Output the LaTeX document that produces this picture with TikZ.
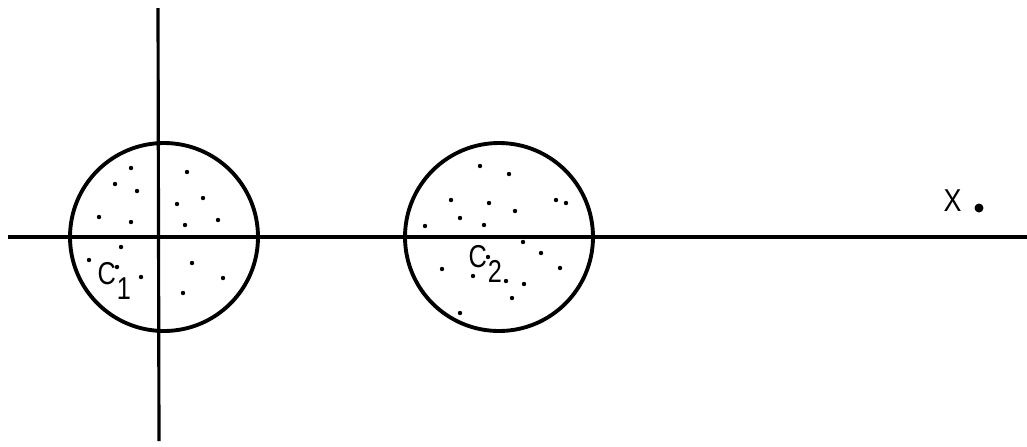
\documentclass[tikz,border=0pt]{standalone}
\usepackage{fontspec}
\setmainfont{Liberation Sans}
\usetikzlibrary{positioning}

\newcommand{\clab}[2]{\scalebox{0.8}[1]{#1\hspace{0.3pt}\raisebox{-4.3pt}{#2}}}

\begin{document}
\begin{tikzpicture}[
  x=0.1mm, y=-0.1mm,
  axis/.style={line width=0.9pt},
  cluster/.style={circle, draw, line width=1.1pt, minimum size=18.8mm, inner sep=0pt},
  lbl/.style={font=\fontsize{9}{10}\selectfont, inner sep=0pt, anchor=base west}
]
  \useasboundingbox (0,0) rectangle (1027,446);

  \coordinate (xl) at (8,237);
  \coordinate (xr) at (1027,237);
  \coordinate (yt) at (158,8);
  \coordinate (yb) at (159,441);
  \draw[axis] (xl) -- (xr);
  \draw[axis] (yt) -- (yb);

  \node[cluster] (C1) at (164,237) {};
  \node[cluster] (C2) at (499,237) {};

  % points of the two clusters
  \foreach \p in {(131,168),(115,184),(137,191),(99,217),(131,222),(187,172),
                  (203,198),(177,204),(185,225),(218,220),(121,247),(89,260),
                  (117,267),(141,277),(192,263),(223,278),(183,293)}
    \fill \p circle (0.22mm);
  \foreach \p in {(480,166),(509,174),(451,200),(489,203),(556,200),(566,203),
                  (515,211),(460,218),(484,225),(425,226),(523,242),(488,257),
                  (541,253),(442,269),(473,276),(506,281),(524,284),(560,268),
                  (512,298),(460,313)}
    \fill \p circle (0.22mm);

  \node[lbl] (l1) at (97,284) {\clab{C}{1}};
  \node[lbl] (l2) at (468,267) {\clab{C}{2}};

  \node[lbl] (xlab) at (943,211) {\scalebox{0.85}[1]{X}};
  \fill (979,208) circle (0.45mm);
\end{tikzpicture}
\end{document}
